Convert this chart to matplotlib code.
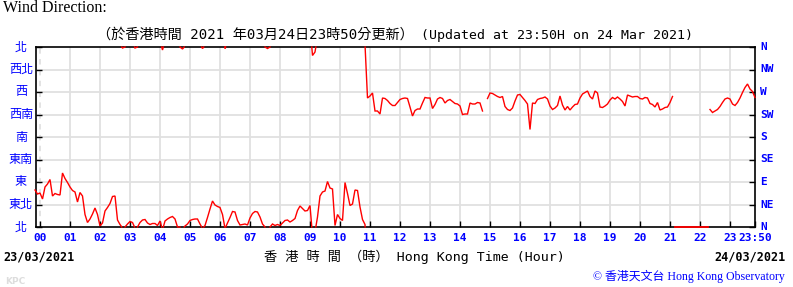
import numpy as np
import matplotlib
matplotlib.use("Agg")
import matplotlib.pyplot as plt

nan = float("nan")

# ---- data -------------------------------------------------------------
start_min = -10          # first reading: 23:50 on 23/03/2021 (minutes from 00:00)
step_min = 5             # sampling interval (minutes)
direction = [            # wind direction in degrees (0 = N, 90 = E ...)
    74, 66,
    68, 56, 80, 86, 95, 62, 67, 65, 64, 108, 97, 89,              # 00
    80, 73, 70, 50, 69, 62, 25, 9, 16, 26, 38, 25,                # 01
    2, 8, 32, 39, 47, 61, 62, 14, 5, 358, 0, 6,                   # 02
    11, 9, 358, 0, 9, 14, 15, 8, 5, 7, 7, 3,                      # 03
    12, 354, 12, 16, 19, 21, 16, 0, 0, 356, 2, 6,                 # 04
    13, 15, 16, 16, 6, 357, 3, 19, 36, 52, 44, 41,                # 05
    39, 25, 357, 8, 19, 31, 30, 13, 4, 5, 6, 4,                   # 06
    18, 27, 31, 30, 20, 6, 0, 357, 0, 6, 3, 5,                    # 07
    3, 8, 13, 14, 10, 13, 17, 33, 42, 37, 32, 33,                 # 08
    43, 343, 350, 20, 62, 70, 72, 91, 78, 76, 3, 25,              # 09
    17, 13, 89, 67, 43, 46, 74, 73, 40, 15, 5, 258,               # 10
    262, 268, 232, 232, 226, 258, 257, 253, 247, 243, 243, 249,   # 11
    255, 257, 258, 257, 240, 222, 233, 236, 236, 248, 259, 258,   # 12
    258, 237, 245, 256, 259, 257, 248, 253, 255, 251, 247, 246,   # 13
    242, 225, 226, 226, 248, 246, 246, 249, 248, 232, nan, 257,   # 14
    268, 267, 264, 261, 259, 261, 241, 235, 233, 238, 252, 264,   # 15
    265, 259, 253, 246, 195, 248, 247, 255, 257, 258, 260, 256,   # 16
    242, 235, 238, 243, 262, 244, 234, 241, 234, 240, 245, 246,   # 17
    258, 266, 269, 272, 261, 256, 272, 268, 240, 239, 242, 246,   # 18
    254, 259, 256, 260, 256, 251, 242, 264, 262, 260, 261, 261,   # 19
    257, 256, 259, 258, 247, 245, 240, 249, 234, 236, 239, 240,   # 20
    249, 261, nan, nan, nan, nan, nan, nan, nan, nan, nan, nan,   # 21
    nan, nan, nan, nan, 235, 229, 232, 235, 241, 249, 256, 258,   # 22
    256, 246, 243, 249, 258, 269, 279, 286, 276, 271, 259,        # 23
]

hour_ticks = list(range(24)) + [23 + 50 / 60]
hour_labels = ["%02d" % h for h in range(24)] + ["23:50"]
dir_ticks = [0, 45, 90, 135, 180, 225, 270, 315, 360]
dir_labels_en = ["N", "NE", "E", "SE", "S", "SW", "W", "NW", "N"]
dir_labels_zh = ["北", "東北", "東", "東南", "南", "西南", "西", "西北", "北"]

# ---- figure -----------------------------------------------------------
W, H = 793, 287
fig = plt.figure(figsize=(W / 100, H / 100), dpi=100)
fig.patch.set_facecolor("white")
ax = fig.add_axes([36 / W, 60 / H, 719 / W, 180 / H])

BLUE = "#0000ff"
RED = "#ff0000"
GRID = "#e0e0e0"

ax.set_xlim(-8 / 60, 23 + 50 / 60)
ax.set_ylim(0, 360)

# grid
for h in range(24):
    ax.axvline(h, color=GRID, lw=1.3, ls=(0, (3, 3)) if h == 0 else "-", zorder=0)
for d in dir_ticks[1:-1]:
    ax.axhline(d, color=GRID, lw=1.3, zorder=0)

# build line segments, breaking at NaN and across the N (0/360) wrap
t = (start_min + step_min * np.arange(len(direction))) / 60.0
dv = np.array(direction, dtype=float)
segs = []
cx, cy = [], []
for i in range(len(dv)):
    if np.isnan(dv[i]):
        if cx:
            segs.append((cx, cy))
            cx, cy = [], []
        continue
    if cx and i > 0 and not np.isnan(dv[i - 1]):
        diff = dv[i] - dv[i - 1]
        if abs(diff) > 180:
            if diff > 0:
                a_end, b_start = 0, 360
                total = dv[i - 1] + (360 - dv[i])
                frac = dv[i - 1] / total
            else:
                a_end, b_start = 360, 0
                total = (360 - dv[i - 1]) + dv[i]
                frac = (360 - dv[i - 1]) / total
            tc = t[i - 1] + frac * (t[i] - t[i - 1])
            cx.append(tc)
            cy.append(a_end)
            segs.append((cx, cy))
            cx, cy = [tc], [b_start]
    cx.append(t[i])
    cy.append(dv[i])
if cx:
    segs.append((cx, cy))

for sx, sy in segs:
    ax.plot(sx, sy, color=RED, lw=1.0, zorder=3, clip_on=False,
            solid_joinstyle="miter")

# missing readings are drawn along the bottom
i = 0
while i < len(dv):
    if np.isnan(dv[i]):
        j = i
        while j + 1 < len(dv) and np.isnan(dv[j + 1]):
            j += 1
        if j > i:
            ax.plot([t[i], t[j]], [0, 0], color=RED, lw=1.3, zorder=3, clip_on=False)
        i = j + 1
    else:
        i += 1

# spines & ticks
for s in ax.spines.values():
    s.set_color("black")
    s.set_linewidth(1.2)
    s.set_zorder(2.5)

ax.set_xticks(hour_ticks)
ax.set_xticklabels(hour_labels, fontfamily="DejaVu Sans Mono", fontweight="bold",
                   color=BLUE, fontsize=8)
ax.set_yticks(dir_ticks)
ax.set_yticklabels([])
ax.tick_params(axis="both", direction="in", length=4, width=1, color="black",
               top=False, right=True, left=True, bottom=True)
ax.tick_params(axis="x", pad=4)

ytr = ax.get_yaxis_transform()
for d, lab in zip(dir_ticks, dir_labels_zh):
    ax.text(-15 / 719, d, lab, transform=ytr, ha="center", va="center",
            fontfamily="Noto Sans CJK TC", fontsize=8.7, color=BLUE)
for d, lab in zip(dir_ticks, dir_labels_en):
    ax.text(1 + 5 / 719, d, lab, transform=ytr, ha="left", va="center",
            fontfamily="DejaVu Sans Mono", fontweight="bold", fontsize=8, color=BLUE)


def px(x, y):
    return x / W, 1 - y / H


fig.text(*px(3, 8), "Wind Direction:", ha="left", va="center",
         fontfamily="Liberation Serif", fontsize=11.5, color="black")
fig.text(*px(414, 35), "（於香港時間 2021 年03月24日23時50分更新）",
         ha="right", va="center", fontfamily=["DejaVu Sans Mono", "Noto Sans CJK TC"],
         fontsize=10.2, color="black")
fig.text(*px(421, 35), "(Updated at 23:50H on 24 Mar 2021)",
         ha="left", va="center", fontfamily="DejaVu Sans Mono",
         fontsize=9.5, color="black")
fig.text(*px(3, 257), "23/03/2021", ha="left", va="center",
         fontfamily="DejaVu Sans Mono", fontweight="bold", fontsize=8.5, color="black")
fig.text(*px(786, 257), "24/03/2021", ha="right", va="center",
         fontfamily="DejaVu Sans Mono", fontweight="bold", fontsize=8.5, color="black")
fig.text(*px(414, 257), "香 港 時 間 （時） Hong Kong Time (Hour)", ha="center",
         va="center", fontfamily=["DejaVu Sans Mono", "Noto Sans CJK TC"],
         fontsize=9.5, color="black")
fig.text(*px(785, 276), "© 香港天文台 Hong Kong Observatory", ha="right", va="center",
         fontfamily=["Liberation Serif", "Noto Sans CJK TC"], fontsize=8.6, color=BLUE)
fig.text(*px(5, 281), "KPC", ha="left", va="center", fontfamily="DejaVu Sans",
         fontweight="bold", fontsize=6.5, color="#dddddd")

fig.savefig("out.png", dpi=100, facecolor="white")
